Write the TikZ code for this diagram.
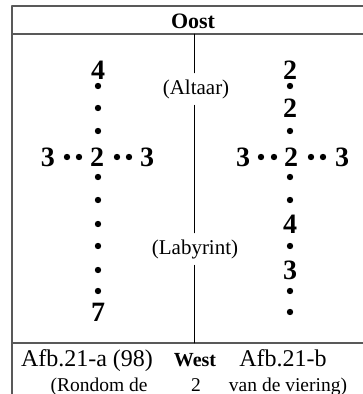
\documentclass[tikz,border=0pt]{standalone}
\usepackage{fontspec}
\setmainfont{Liberation Serif}
\usepackage{tikz}

\tikzset{
  frameline/.style={draw=black!65,line width=1.3pt},
  num/.style={inner sep=0pt,font=\bfseries\fontsize{28}{28}\selectfont},
  dotmark/.style={circle,fill=black,inner sep=0pt,minimum size=6.4pt},
  note/.style={inner sep=0pt,minimum height=32pt,font=\fontsize{21}{21}\selectfont},
  caption/.style={inner sep=0pt,anchor=base,font=\fontsize{24}{24}\selectfont},
  subcaption/.style={inner sep=0pt,anchor=base,font=\fontsize{19.5}{19.5}\selectfont}
}

\begin{document}
\begin{tikzpicture}[line cap=round,line join=round,x=1pt,y=-1pt]
  \useasboundingbox (0,0) rectangle (363,394);

  % frame
  \coordinate (TL) at (12,6);
  \coordinate (TR) at (364,6);
  \coordinate (HL) at (12,34);
  \coordinate (HR) at (364,34);
  \coordinate (BL) at (12,343);
  \coordinate (BR) at (364,343);
  \coordinate (FL) at (12,395);
  \draw[frameline] (FL) -- (TL) -- (TR);
  \draw[frameline] (HL) -- (HR);
  \draw[frameline] (BL) -- (BR);

  \node[inner sep=0pt,font=\bfseries\fontsize{22}{22}\selectfont] (oost) at (193,21) {Oost};

  % middle line with the two notes
  \node[note] (altaar) at (196,89) {(Altaar)};
  \node[note] (labyrint) at (195,249) {(Labyrint)};
  \coordinate (mtop) at (194,34);
  \coordinate (mbot) at (194,343);
  \draw[line width=0.8pt] (mtop) -- (mtop |- altaar.north);
  \draw[line width=0.8pt] (mtop |- altaar.south) -- (mtop |- labyrint.north);
  \draw[line width=0.8pt] (mtop |- labyrint.south) -- (mbot);

  % cross a
  \node[num] (a4) at (98,70) {4};
  \node[num] (a2) at (97,157) {2};
  \node[num] (a3l) at (48,157) {3};
  \node[num] (a3r) at (147,157) {3};
  \node[num] (a7) at (98,312) {7};
  \foreach \y in {86,108,131,177,200,224,246,270,291}
    \node[dotmark] at (98,\y) {};
  \foreach \x in {67,79,117,129}
    \node[dotmark] at (\x,157) {};

  % cross b
  \node[num] (b2a) at (290,70) {2};
  \node[num] (b2b) at (290,108) {2};
  \node[num] (b2) at (291,157) {2};
  \node[num] (b3l) at (243,157) {3};
  \node[num] (b3r) at (342,157) {3};
  \node[num] (b4) at (290,224) {4};
  \node[num] (b3) at (290,270) {3};
  \foreach \y in {86,131,177,200,246,291,312}
    \node[dotmark] at (290,\y) {};
  \foreach \x in {261,274,311,323}
    \node[dotmark] at (\x,157) {};

  % captions
  \node[caption] (capa) at (87,366) {Afb.21-a (98)};
  \node[caption,font=\bfseries\fontsize{20}{20}\selectfont] (west) at (195,366) {West};
  \node[caption] (capb) at (283,366) {Afb.21-b};
  \node[subcaption] (ronda) at (99,391) {(Rondom de};
  \node[subcaption] (rondn) at (196,391) {2};
  \node[subcaption] (rondb) at (288,391) {van de viering)};
\end{tikzpicture}
\end{document}
